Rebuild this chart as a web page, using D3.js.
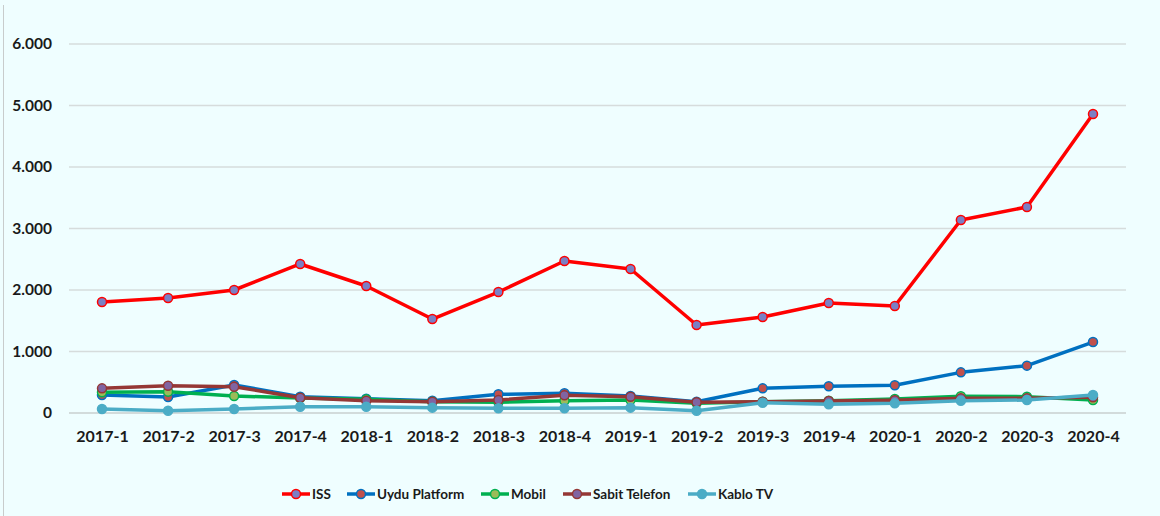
<!DOCTYPE html>
<html><head><meta charset="utf-8">
<script src="https://cdn.jsdelivr.net/npm/d3@7"></script>
<style>
html,body{margin:0;padding:0;background:#EFFEFF;}
svg{display:block;}
text{font-family:Lato,"Open Sans",sans-serif;font-weight:bold;fill:#1a1a1a;}
</style></head><body>
<script>
const categories=["2017-1","2017-2","2017-3","2017-4","2018-1","2018-2","2018-3","2018-4","2019-1","2019-2","2019-3","2019-4","2020-1","2020-2","2020-3","2020-4"];
const iss=[1805,1870,2000,2423,2065,1528,1967,2472,2341,1431,1561,1789,1740,3138,3350,4862];
const uydu=[293,260,455,265,233,200,304,320,276,184,401,435,450,661,770,1154];
const mobil=[336,347,276,244,222,184,174,200,211,157,184,200,228,271,266,211];
const sabit=[401,444,428,249,200,184,211,287,265,174,184,195,206,238,238,255];
const kablo=[65,38,65,103,103,87,76,76,87,38,168,141,157,200,211,293];
const yTicks=[0,1000,2000,3000,4000,5000,6000];
const yTickLabels=["0","1.000","2.000","3.000","4.000","5.000","6.000"];
const seriesNames=["ISS","Uydu Platform","Mobil","Sabit Telefon","Kablo TV"];

const series=[
 {name:seriesNames[0],values:iss,line:"#FF0000",fill:"#7B7FC4"},
 {name:seriesNames[1],values:uydu,line:"#0070C0",fill:"#C0504D"},
 {name:seriesNames[2],values:mobil,line:"#00B050",fill:"#9BBB59"},
 {name:seriesNames[3],values:sabit,line:"#953735",fill:"#8064A2"},
 {name:seriesNames[4],values:kablo,line:"#4BACC6",fill:"#4BACC6"}
];

const W=1160,H=516;
const svg=d3.select("body").append("svg").attr("width",W).attr("height",H);
svg.append("line").attr("x1",3.5).attr("x2",3.5).attr("y1",5).attr("y2",H).attr("stroke","#C8CCCC").attr("stroke-width",1);

const x=d3.scalePoint().domain(categories).range([102,1093]);
const y=d3.scaleLinear().domain([0,6000]).range([413,44]);

const grid=svg.append("g");
grid.selectAll("line").data(yTicks).join("line")
 .attr("x1",69).attr("x2",1126).attr("y1",d=>y(d)).attr("y2",d=>y(d))
 .attr("stroke",d=>d===0?"#C9CFCF":"#D6DCDC").attr("stroke-width",1.5);

const yAxis=d3.axisLeft(y).tickValues(yTicks).tickFormat((d,i)=>yTickLabels[i]).tickSize(0).tickPadding(0);
const ya=svg.append("g").attr("transform","translate(52,0)").call(yAxis);
ya.select(".domain").remove();
ya.selectAll("text").attr("font-size",15.5).attr("fill","#1a1a1a").style("font-family","Lato,sans-serif").style("font-weight","bold");

const xAxis=d3.axisBottom(x).tickSize(0).tickPadding(0);
const xa=svg.append("g").attr("transform","translate(0,431)").call(xAxis);
xa.select(".domain").remove();
xa.selectAll("text").attr("font-size",16).attr("fill","#1a1a1a").attr("dy","0.71em").style("font-family","Lato,sans-serif").style("font-weight","bold");

const line=d3.line().x((d,i)=>x(categories[i])).y(d=>y(d));
series.forEach(s=>{
 const g=svg.append("g");
 g.append("path").datum(s.values).attr("d",line).attr("fill","none").attr("stroke",s.line).attr("stroke-width",3.5).attr("stroke-linejoin","round");
 g.selectAll("circle").data(s.values).join("circle")
  .attr("cx",(d,i)=>x(categories[i])).attr("cy",d=>y(d)).attr("r",4.5)
  .attr("fill",s.fill).attr("stroke",s.line).attr("stroke-width",1.5);
});

// legend
const leg=svg.append("g");
let items=[];
series.forEach(s=>{
 const g=leg.append("g");
 g.append("line").attr("x1",0).attr("x2",28).attr("y1",0).attr("y2",0).attr("stroke",s.line).attr("stroke-width",3.5);
 g.append("circle").attr("cx",14).attr("cy",0).attr("r",4.5).attr("fill",s.fill).attr("stroke",s.line).attr("stroke-width",1.5);
 const t=g.append("text").attr("x",30).attr("y",5).attr("font-size",13.5).text(s.name);
 items.push({g,w:30+t.node().getComputedTextLength()});
});
const startX=[282,347,481,563,688];
items.forEach((it,i)=>{it.g.attr("transform",`translate(${startX[i]},494)`);});
</script>
</body></html>
